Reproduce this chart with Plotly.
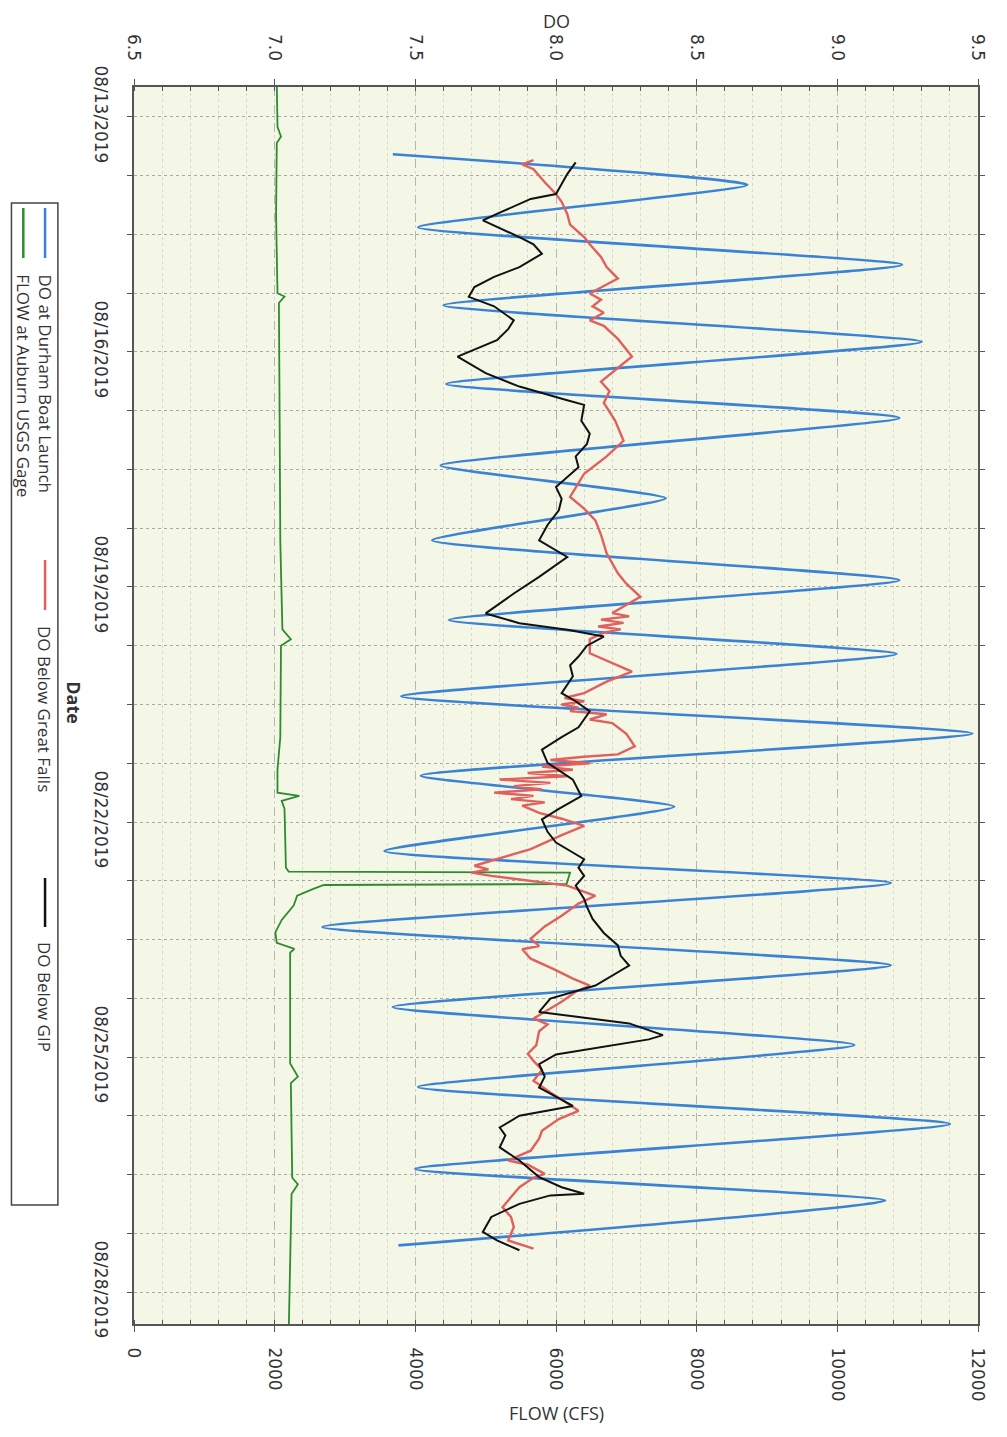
import pandas as pd
import plotly.graph_objects as go

# ---------------- data (hours since 2019-08-13 00:00) ----------------
BASE = pd.Timestamp("2019-08-13 00:00")

blue_hours = [11.4, 20.8, 33.8, 45.3, 57.7, 68.9, 81.8, 92.2, 106.8, 116.8, 129.7, 141.9,
              154.1, 164.5, 177.5, 188.9, 201.8, 211.3, 224.9, 234.7, 248.2, 259.9, 272.7,
              284.3, 297.2, 308.5, 322.3, 332.0, 345.7]
blue_do = [7.42, 8.68, 7.51, 9.23, 7.60, 9.30, 7.61, 9.22, 7.59, 8.39, 7.56, 9.22,
           7.62, 9.21, 7.45, 9.48, 7.52, 8.42, 7.39, 9.19, 7.17, 9.19, 7.42,
           9.06, 7.51, 9.40, 7.50, 9.17, 7.44]

red_hours = [13.2, 14.5, 16.0, 20, 23.6, 26, 29.7, 33, 36.8, 39, 42.9, 46, 49.5, 54.1, 56, 58,
             60, 62.3, 64, 68, 73.4, 77, 81.1, 84, 87.6, 93, 99.2, 104, 109.3, 116.4, 120,
             123.6, 128, 133.7, 139.8, 143, 147.0, 150, 152, 153, 154, 155, 156.1, 157, 158,
             160, 164.3, 169.9, 173, 176.5, 178, 179, 180, 181, 182, 183, 184.6, 185.7,
             189, 192.8, 195.3, 196, 197, 198, 199, 200, 201, 202, 203, 204, 205, 206, 207,
             208, 209, 210, 211, 213.2, 215, 217.2, 220, 224.3, 227, 229.4, 230.5, 231.5,
             232.5, 235.5, 238.6, 241, 244.7, 248, 251.8, 254, 255, 257.9, 261, 264.0, 266.1,
             268, 271.1, 276.2, 278, 280.1, 284.4, 287, 289.2, 292, 295.3, 298.9, 301,
             304.5, 307, 310.6, 313, 316.7, 319.7, 321, 323.8, 325, 327.9, 331, 334.0, 337,
             340.1, 344.2, 346.7]
red_do = [7.92, 7.88, 7.92, 7.96, 8.00, 8.02, 8.04, 8.05, 8.10, 8.12, 8.16, 8.18, 8.22, 8.12,
          8.16, 8.13, 8.17, 8.12, 8.17, 8.22, 8.27, 8.22, 8.16, 8.19, 8.17, 8.21, 8.24, 8.18,
          8.10, 8.05, 8.10, 8.14, 8.16, 8.18, 8.22, 8.25, 8.30, 8.24, 8.20, 8.26, 8.16, 8.24,
          8.15, 8.23, 8.17, 8.12, 8.12, 8.27, 8.18, 8.10, 8.03, 8.10, 8.02, 8.08, 8.05, 8.18,
          8.12, 8.20, 8.25, 8.28, 8.22, 8.10, 7.98, 8.12, 7.95, 8.06, 7.90, 8.04, 7.80, 7.98,
          7.85, 7.95, 7.78, 7.92, 7.84, 7.96, 7.88, 7.94, 8.02, 8.10, 8.02, 7.91, 7.80, 7.71,
          7.76, 7.70, 7.77, 8.04, 8.14, 8.08, 8.02, 7.96, 7.91, 7.94, 7.88, 7.91, 7.99, 8.06,
          8.12, 8.07, 8.02, 7.92, 7.97, 7.94, 7.93, 7.90, 7.92, 7.95, 7.92, 7.98, 8.02, 8.08,
          8.01, 7.95, 7.94, 7.91, 7.83, 7.90, 7.96, 7.92, 7.87, 7.84, 7.81, 7.84, 7.85, 7.83,
          7.92]

black_hours = [13.9, 17.5, 23.6, 25.1, 29.7, 31.7, 36.8, 39, 41.9, 46.0, 49, 52.1, 55.1, 58,
               62.3, 65, 68.4, 73.4, 78.5, 82.6, 86.8, 88.2, 93.1, 97, 100.2, 104, 107.3,
               113.4, 117, 120.5, 125, 129.7, 134.8, 140.9, 146.0, 152.1, 155.1, 157.1,
               159.2, 162, 165.3, 168, 171.4, 176.5, 179, 182.1, 187.0, 190, 193.8, 197.9,
               203.0, 208.1, 212, 215.2, 219, 222.3, 227.4, 230, 232.5, 235.5, 239.6, 242,
               245.7, 250, 253.8, 257, 260.0, 266.1, 270.1, 274.2, 277.7, 281.3, 282.6, 287.2,
               290.2, 294, 297.4, 303.0, 306.0, 309.6, 312, 315.7, 319.7, 322, 324.8, 327.9,
               329.9, 330.4, 333.0, 337.0, 341.6, 344.2, 347.2]
black_do = [8.07, 8.04, 8.00, 7.91, 7.79, 7.74, 7.87, 7.92, 7.95, 7.87, 7.78, 7.71, 7.69, 7.78,
            7.85, 7.83, 7.79, 7.65, 7.75, 7.87, 8.04, 8.10, 8.09, 8.12, 8.11, 8.07, 8.08,
            8.00, 8.02, 8.01, 7.97, 7.94, 8.04, 7.94, 7.85, 7.75, 7.87, 8.04,
            8.17, 8.11, 8.08, 8.05, 8.06, 8.02, 8.07, 8.12, 8.08, 8.02, 7.95, 7.97,
            8.06, 8.09, 8.01, 7.95, 7.97, 8.00, 8.10, 8.08, 8.10, 8.07, 8.10, 8.11,
            8.13, 8.17, 8.22, 8.23, 8.26, 8.14, 7.98, 7.94, 8.26, 8.38, 8.33, 8.00,
            7.94, 7.96, 7.94, 8.06, 7.87, 7.80, 7.82, 7.80, 7.87, 7.90, 7.94, 8.02,
            8.10, 7.98, 7.87, 7.77, 7.74, 7.79, 7.87]

green_hours = [-10, 3, 6, 8, 30, 54, 55, 57, 90, 130, 157, 160, 162, 190, 200, 207, 208,
               209.5, 212, 230, 231.2, 231.5, 235, 235.3, 236.5, 238.6, 241.6, 246, 249.8,
               253, 254.9, 256, 290, 294, 296, 325, 327, 330, 372]
green_flow = [2030, 2040, 2090, 2030, 2020, 2040, 2140, 2060, 2070, 2080, 2110, 2230, 2090,
              2080, 2040, 2040, 2350, 2100, 2140, 2160, 2200, 6200, 6150, 2700, 2550, 2320,
              2270, 2100, 2010, 2030, 2280, 2220, 2220, 2330, 2230, 2250, 2330, 2240, 2200]

series_names = ["DO at Durham Boat Launch", "DO Below Great Falls", "DO Below GIP",
                "FLOW at Auburn USGS Gage"]
series_colors = ["#3a82d4", "#e0605e", "#111111", "#2e8b2e"]

flow_ticks = [0, 2000, 4000, 6000, 8000, 10000, 12000]
do_ticks = [6.5, 7.0, 7.5, 8.0, 8.5, 9.0, 9.5]


def to_dates(hours):
    return [(BASE + pd.Timedelta(hours=h)).strftime("%Y-%m-%d %H:%M") for h in hours]


# page has an 8px body margin; size the figure so the screenshot lines up
OFF = 8
W, H = 1007 - 2 * OFF, 1437 - 2 * OFF
L, R, T, B = 134 - OFF, 988 - OFF, 87 - OFF, 1324 - OFF   # plot box inside the figure


def px(xs):
    """screenshot x pixel -> paper fraction"""
    return (xs - OFF - L) / (R - L)


def py(ys):
    """screenshot y pixel -> paper fraction"""
    return (B - (ys - OFF)) / (B - T)


fig = go.Figure()
fig.add_trace(go.Scatter(x=green_flow, y=to_dates(green_hours), mode="lines",
                         line=dict(color=series_colors[3], width=1.8),
                         name=series_names[3], xaxis="x", yaxis="y"))
fig.add_trace(go.Scatter(x=blue_do, y=to_dates(blue_hours), mode="lines",
                         line=dict(color=series_colors[0], width=2.6, shape="spline", smoothing=0.45),
                         name=series_names[0], xaxis="x2", yaxis="y"))
fig.add_trace(go.Scatter(x=red_do, y=to_dates(red_hours), mode="lines",
                         line=dict(color=series_colors[1], width=2.4),
                         name=series_names[1], xaxis="x2", yaxis="y"))
fig.add_trace(go.Scatter(x=black_do, y=to_dates(black_hours), mode="lines",
                         line=dict(color=series_colors[2], width=2.0),
                         name=series_names[2], xaxis="x2", yaxis="y"))

tickfont = dict(family="DejaVu Sans", size=17, color="#333")
axis_line = dict(showline=True, linecolor="#555", linewidth=2)

fig.update_layout(
    width=W, height=H,
    margin=dict(l=L, r=W - R, t=T, b=H - B),
    paper_bgcolor="white",
    plot_bgcolor="#f4f6e6",
    showlegend=False,
    xaxis=dict(range=[0, 12000], tickvals=flow_ticks, tickformat="d", tickangle=90,
               tickfont=tickfont,
               ticks="outside", ticklen=6, tickcolor="#555", ticklabelstandoff=12,
               showgrid=True, gridcolor="#b5b5b5", griddash="dash", gridwidth=1,
               minor=dict(dtick=400, showgrid=True, gridcolor="#d6d6d0", griddash="dot",
                          ticks="inside", ticklen=4, tickcolor="#555"),
               zeroline=False, **axis_line),
    xaxis2=dict(range=[6.5, 9.5], tickvals=do_ticks, tickformat=".1f", tickangle=90,
                tickfont=tickfont, overlaying="x", side="top", showgrid=False,
                ticks="outside", ticklen=6, tickcolor="#555", ticklabelstandoff=12,
                minor=dict(dtick=0.1, ticks="inside", ticklen=4, tickcolor="#555"),
                zeroline=False, **axis_line),
    yaxis=dict(type="date", range=["2019-08-28 09:48", "2019-08-12 14:49"],
               tick0="2019-08-13", dtick=3 * 86400000, tickformat="%m/%d/%Y",
               tickangle=90, tickfont=tickfont, ticks="outside", ticklen=5, tickcolor="#555",
               ticklabelstandoff=12, mirror="ticks",
               showgrid=True, gridcolor="#a8a8a8", griddash="dot", gridwidth=1.2,
               minor=dict(tick0="2019-08-13", dtick=18 * 3600000, showgrid=True,
                          gridcolor="#a8a8a8", griddash="dot", ticks="outside", ticklen=5,
                          tickcolor="#555"),
               zeroline=False, **axis_line),
)

title_font = dict(family="Open Sans", size=18, color="#333")
annotations = [
    dict(text="DO", x=px(561), y=py(21), xref="paper", yref="paper", showarrow=False,
         font=title_font, xanchor="center", yanchor="middle"),
    dict(text="FLOW (CFS)", x=px(562), y=py(1413), xref="paper", yref="paper", showarrow=False,
         font=title_font, xanchor="center", yanchor="middle"),
    dict(text="<b>Date</b>", x=px(73), y=py(703), xref="paper", yref="paper", showarrow=False,
         font=title_font, textangle=90, xanchor="center", yanchor="middle"),
]

legend_font = dict(family="Open Sans", size=17, color="#333")
legend_items = [
    (series_names[0], series_colors[0], 44, 208, 258, 272),
    (series_names[1], series_colors[1], 44, 560, 610, 624),
    (series_names[2], series_colors[2], 44, 878, 927, 940),
    (series_names[3], series_colors[3], 22, 208, 258, 272),
]
shapes = [dict(type="rect", xref="paper", yref="paper", x0=px(10), x1=px(57), y0=py(203),
               y1=py(1205), line=dict(color="#444", width=1.5), fillcolor="rgba(0,0,0,0)")]
for name, color, xc, ya, yb, yt in legend_items:
    shapes.append(dict(type="line", xref="paper", yref="paper", x0=px(xc), x1=px(xc),
                       y0=py(ya), y1=py(yb), line=dict(color=color, width=2.5)))
    annotations.append(dict(text=name, x=px(xc), y=py(yt), xref="paper", yref="paper",
                            showarrow=False, font=legend_font, textangle=90,
                            xanchor="center", yanchor="top"))

fig.update_layout(annotations=annotations, shapes=shapes)
fig.write_html("out.html")
